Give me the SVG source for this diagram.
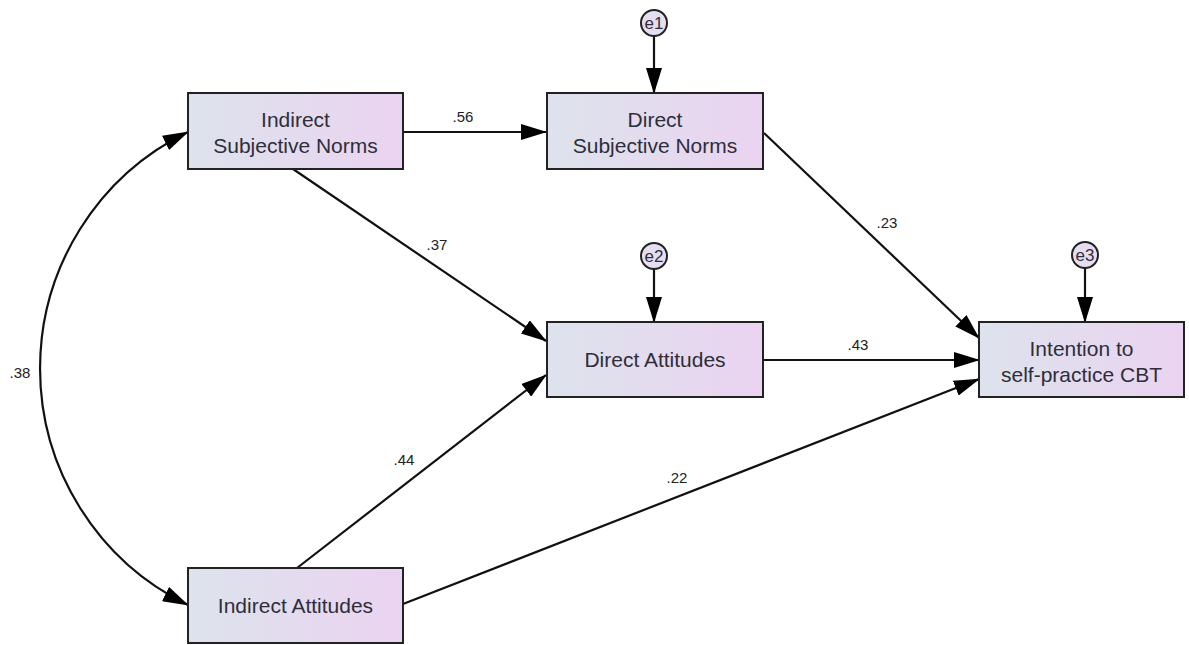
<svg xmlns="http://www.w3.org/2000/svg" width="1189" height="645" viewBox="0 0 1189 645">
<style>
.box{fill:url(#g);stroke:#222;stroke-width:2}
.t{font-family:"Liberation Sans",Arial,sans-serif;font-size:21px;fill:#2e2e3a;text-anchor:middle}
.l{font-family:"Liberation Sans",Arial,sans-serif;font-size:15px;fill:#222;text-anchor:middle}
.e{fill:#e6def0;stroke:#222;stroke-width:2}
.et{font-family:"Liberation Sans",Arial,sans-serif;font-size:17px;fill:#2e2e3a;text-anchor:middle}
.c{fill:none;stroke:#111;stroke-width:2.2}
</style>
<defs>
<linearGradient id="g" x1="0" y1="0" x2="1" y2="0">
<stop offset="0" stop-color="#dde3ec"/>
<stop offset="1" stop-color="#ebd3f1"/>
</linearGradient>
<marker id="ah" markerWidth="26" markerHeight="16" refX="25" refY="8" orient="auto-start-reverse" markerUnits="userSpaceOnUse">
<path d="M0,0 L26,8 L0,16 Z" fill="#000"/>
</marker>
</defs>
<rect width="1189" height="645" fill="#fff"/>
<g id="connectors">
<path class="c" d="M188,132 A263,263 0 0,0 188,605" marker-start="url(#ah)" marker-end="url(#ah)"/>
<line class="c" x1="654" y1="36" x2="654" y2="93" marker-end="url(#ah)"/>
<line class="c" x1="654" y1="269" x2="654" y2="322" marker-end="url(#ah)"/>
<line class="c" x1="1085" y1="268" x2="1085" y2="322" marker-end="url(#ah)"/>
<line class="c" x1="403" y1="132" x2="546" y2="132" marker-end="url(#ah)"/>
<line class="c" x1="293" y1="169" x2="546" y2="341" marker-end="url(#ah)"/>
<line class="c" x1="297" y1="568" x2="546" y2="375" marker-end="url(#ah)"/>
<line class="c" x1="764" y1="133" x2="979" y2="338" marker-end="url(#ah)"/>
<line class="c" x1="763" y1="360" x2="979" y2="360" marker-end="url(#ah)"/>
<line class="c" x1="403" y1="604" x2="979" y2="379" marker-end="url(#ah)"/>
<text class="l" x="20" y="378">.38</text>
<text class="l" x="463" y="122">.56</text>
<text class="l" x="437" y="250">.37</text>
<text class="l" x="404" y="465">.44</text>
<text class="l" x="887" y="228">.23</text>
<text class="l" x="858" y="350">.43</text>
<text class="l" x="677" y="483">.22</text>
</g>
<g id="isn"><rect class="box" x="188" y="93" width="215" height="76"/><text class="t" x="295.5" y="127">Indirect</text><text class="t" x="295.5" y="153">Subjective Norms</text></g>
<g id="dsn"><rect class="box" x="547" y="93" width="216" height="76"/><text class="t" x="655" y="127">Direct</text><text class="t" x="655" y="153">Subjective Norms</text></g>
<g id="da"><rect class="box" x="547" y="322" width="216" height="75"/><text class="t" x="655" y="367">Direct Attitudes</text></g>
<g id="int"><rect class="box" x="979" y="322" width="205" height="75"/><text class="t" x="1081.5" y="356">Intention to</text><text class="t" x="1081.5" y="382">self-practice CBT</text></g>
<g id="ia"><rect class="box" x="188" y="568" width="215" height="75"/><text class="t" x="295.5" y="613">Indirect Attitudes</text></g>
<g id="e1"><circle class="e" cx="654" cy="23" r="13"/><text class="et" x="654" y="29">e1</text></g>
<g id="e2"><circle class="e" cx="654" cy="256" r="13"/><text class="et" x="654" y="262">e2</text></g>
<g id="e3"><circle class="e" cx="1085" cy="255" r="13"/><text class="et" x="1085" y="261">e3</text></g>
</svg>
